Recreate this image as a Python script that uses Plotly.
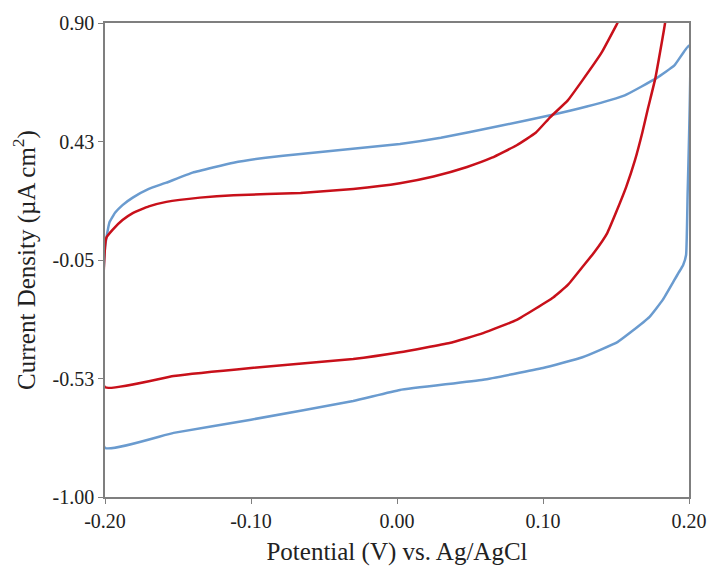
import plotly.graph_objects as go

# Blue cyclic voltammogram (outer loop)
blue_x = [-0.200, -0.200, -0.197, -0.193, -0.188, -0.181, -0.170, -0.158, -0.140, -0.112,
          -0.090, -0.066, -0.032, 0.002, 0.030, 0.070, 0.105, 0.130, 0.156, 0.178,
          0.190, 0.200, 0.199, 0.198, 0.196, 0.193, 0.190, 0.182, 0.173, 0.160,
          0.151, 0.127, 0.100, 0.059, 0.002, -0.030, -0.100, -0.153, -0.200]
blue_y = [-0.803, 0.000, 0.100, 0.140, 0.170, 0.200, 0.235, 0.260, 0.300, 0.340,
          0.360, 0.375, 0.395, 0.415, 0.440, 0.487, 0.530, 0.565, 0.610, 0.680,
          0.730, 0.810, 0.200, -0.030, -0.070, -0.100, -0.130, -0.210, -0.278, -0.340,
          -0.379, -0.440, -0.483, -0.530, -0.571, -0.615, -0.690, -0.743, -0.803]

# Red cyclic voltammogram (inner loop, clipped at top)
red_x = [-0.200, -0.200, -0.199, -0.195, -0.188, -0.181, -0.170, -0.158, -0.135, -0.112,
         -0.066, -0.030, 0.002, 0.025, 0.048, 0.065, 0.082, 0.095, 0.105, 0.117,
         0.127, 0.140, 0.151, 0.160, 0.170, 0.188, 0.1836, 0.177, 0.172, 0.168,
         0.163, 0.157, 0.150, 0.144, 0.135, 0.127, 0.117, 0.107, 0.082, 0.059,
         0.036, 0.002, -0.030, -0.100, -0.153, -0.200]
red_y = [-0.560, 0.000, 0.040, 0.070, 0.110, 0.138, 0.165, 0.183, 0.200, 0.210,
         0.219, 0.235, 0.258, 0.285, 0.323, 0.360, 0.410, 0.460, 0.523, 0.590,
         0.670, 0.780, 0.900, 1.000, 1.120, 1.120, 0.900, 0.680, 0.560, 0.460,
         0.350, 0.243, 0.140, 0.058, -0.020, -0.078, -0.150, -0.200, -0.290, -0.343,
         -0.383, -0.420, -0.447, -0.483, -0.515, -0.560]

x_ticks = [-0.20, -0.10, 0.00, 0.10, 0.20]
x_labels = ["-0.20", "-0.10", "0.00", "0.10", "0.20"]
y_ticks = [-1.00, -0.525, -0.05, 0.425, 0.90]
y_labels = ["-1.00", "-0.53", "-0.05", "0.43", "0.90"]

fig = go.Figure()
fig.add_trace(go.Scatter(x=blue_x, y=blue_y, mode="lines",
                         line=dict(color="#6A9BCF", width=2.5, shape="spline", smoothing=0.35),
                         showlegend=False))
fig.add_trace(go.Scatter(x=red_x, y=red_y, mode="lines",
                         line=dict(color="#C8101A", width=2.5, shape="spline", smoothing=0.35),
                         showlegend=False))

font_family = "Liberation Serif, Times New Roman, serif"
fig.update_layout(
    width=712, height=566,
    margin=dict(l=105, r=23, t=23, b=69),
    paper_bgcolor="white", plot_bgcolor="white",
    font=dict(family=font_family, color="#222222", size=20),
    xaxis=dict(range=[-0.20, 0.20], tickvals=x_ticks, ticktext=x_labels, automargin=False,
               ticklabeloverflow="allow",
               showgrid=False, zeroline=False, showline=True, linecolor="#7f7f7f",
               linewidth=1.5, mirror=True, ticks="outside", ticklen=5, tickcolor="#7f7f7f",
               tickfont=dict(size=20, family=font_family),
               title=dict(text="Potential (V) vs. Ag/AgCl", font=dict(size=25, family=font_family),
                          standoff=14)),
    yaxis=dict(range=[-1.00, 0.90], tickvals=y_ticks, ticktext=y_labels, automargin=False,
               ticklabeloverflow="allow",
               showgrid=False, zeroline=False, showline=True, linecolor="#7f7f7f",
               linewidth=1.5, mirror=True, ticks="outside", ticklen=5, tickcolor="#7f7f7f",
               tickfont=dict(size=20, family=font_family),
               title=dict(text="Current Density (µA cm<sup>2</sup>)",
                          font=dict(size=25, family=font_family), standoff=10)),
)

fig.write_html("out.html", config={"displayModeBar": False},
               post_script="document.body.style.margin='0';document.body.style.overflow='hidden';")
